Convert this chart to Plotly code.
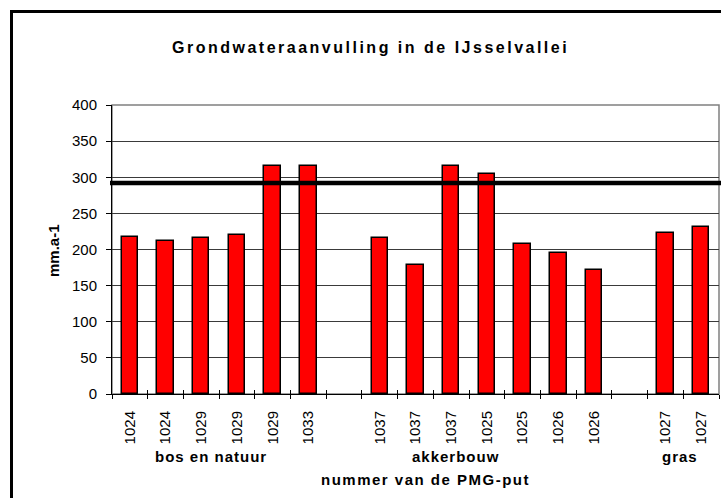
import plotly.graph_objects as go

# ---------------- data ----------------
group_names = ["bos en natuur", "akkerbouw", "gras"]
group_sizes = [6, 7, 2]
well_labels = ["1024", "1024", "1029", "1029", "1029", "1033",
               "1037", "1037", "1037", "1025", "1025", "1026", "1026",
               "1027", "1027"]
recharge = [218, 212, 216, 220, 315, 315,
            216, 179, 315, 305, 207, 195, 171,
            223, 231]
threshold = 292
title_text = "Grondwateraanvulling in de IJsselvallei"
y_title = "mm.a-1"
x_title = "nummer van de PMG-put"
y_ticks = [0, 50, 100, 150, 200, 250, 300, 350, 400]

# ---------------- layout helpers ----------------
W, H = 721, 498
L, R, T, B = 112, 2, 105, 104
PW, PH = W - L - R, H - T - B


def px(x):
    return (x - L) / PW


def py(y):
    return (H - B - y) / PH


# slot positions: one empty slot between groups
positions = []
slot = 0
for gi, n in enumerate(group_sizes):
    for _ in range(n):
        positions.append(slot)
        slot += 1
    if gi < len(group_sizes) - 1:
        slot += 1
n_slots = slot
xr = [-0.5, n_slots - 0.5]

FONT = "Liberation Sans, Arial, sans-serif"

fig = go.Figure()
fig.add_trace(go.Bar(
    x=positions, y=recharge, width=0.46,
    marker=dict(color="#FF0000", line=dict(color="black", width=1.5)),
    showlegend=False, hoverinfo="y",
))
# dummy traces on tick-only overlay axes
fig.add_trace(go.Scatter(x=[positions[0]], y=[0], xaxis="x2", mode="markers",
                         marker=dict(opacity=0), showlegend=False, hoverinfo="skip"))
fig.add_trace(go.Scatter(x=[positions[0]], y=[0], xaxis="x3", mode="markers",
                         marker=dict(opacity=0), showlegend=False, hoverinfo="skip"))

boundaries = [k - 0.5 for k in range(n_slots + 1)]

fig.update_layout(
    width=W, height=H,
    margin=dict(l=L, r=R, t=T, b=B, pad=0),
    paper_bgcolor="white", plot_bgcolor="white",
    font=dict(family=FONT, size=15, color="black"),
    bargap=0,
    xaxis=dict(
        range=xr, tickmode="array", tickvals=positions, ticktext=well_labels,
        tickangle=-90, ticks="", showgrid=False, zeroline=False,
        showline=True, linecolor="black", linewidth=1,
        tickfont=dict(size=15, family=FONT), ticklabelstandoff=10,
        fixedrange=True,
    ),
    xaxis2=dict(
        range=xr, overlaying="x", anchor="y", side="bottom",
        tickmode="array", tickvals=boundaries, showticklabels=False,
        ticks="outside", ticklen=4, tickcolor="black", tickwidth=1,
        showgrid=False, zeroline=False, showline=False,
    ),
    xaxis3=dict(
        range=xr, overlaying="x", anchor="y", side="bottom",
        tickmode="array", tickvals=boundaries, showticklabels=False,
        ticks="inside", ticklen=4, tickcolor="black", tickwidth=1,
        showgrid=False, zeroline=False, showline=False,
    ),
    yaxis=dict(
        range=[0, 400], tickmode="array", tickvals=y_ticks,
        ticks="outside", ticklen=5, tickcolor="black",
        showgrid=True, gridcolor="#3a3a3a", gridwidth=1,
        zeroline=False, showline=True, linecolor="black", linewidth=1,
        tickfont=dict(size=15, family=FONT), ticklabelstandoff=6,
        fixedrange=True,
    ),
)

# plot-area frame (gray, top/right)
fig.add_shape(type="rect", xref="paper", yref="paper", x0=0, x1=1, y0=0, y1=1,
              line=dict(color="#808080", width=1.5), layer="below")
# threshold line
fig.add_shape(type="line", xref="paper", yref="y", x0=px(110), x1=1.02,
              y0=threshold, y1=threshold, line=dict(color="black", width=4.5))
# outer chart frame (extends past the right/bottom edge)
fig.add_shape(type="rect", xref="paper", yref="paper",
              x0=px(11.5), x1=px(730), y0=py(510), y1=py(11.5),
              line=dict(color="black", width=3))

annos = []
annos.append(dict(text='<b><span style="letter-spacing:2.5px">%s</span></b>' % title_text,
                  x=px(370), y=py(47), xref="paper", yref="paper",
                  showarrow=False, xanchor="center", yanchor="middle",
                  font=dict(size=16, family=FONT)))
annos.append(dict(text="<b>%s</b>" % y_title, x=px(53), y=py(251),
                  xref="paper", yref="paper", showarrow=False, textangle=-90,
                  xanchor="center", yanchor="middle", font=dict(size=15, family=FONT)))
annos.append(dict(text='<b><span style="letter-spacing:1.5px">%s</span></b>' % x_title,
                  x=px(425), y=py(479), xref="paper", yref="paper", showarrow=False,
                  xanchor="center", yanchor="middle", font=dict(size=15, family=FONT)))
group_centers_px = [211, 455, 680]
for name, cx in zip(group_names, group_centers_px):
    annos.append(dict(text='<b><span style="letter-spacing:1px">%s</span></b>' % name,
                      x=px(cx), y=py(456), xref="paper", yref="paper",
                      showarrow=False, xanchor="center", yanchor="middle",
                      font=dict(size=15, family=FONT)))
fig.update_layout(annotations=annos)

fig.write_html(
    "out.html",
    config={"displayModeBar": False},
    post_script="document.body.style.margin='0';document.body.style.overflow='hidden';",
)
